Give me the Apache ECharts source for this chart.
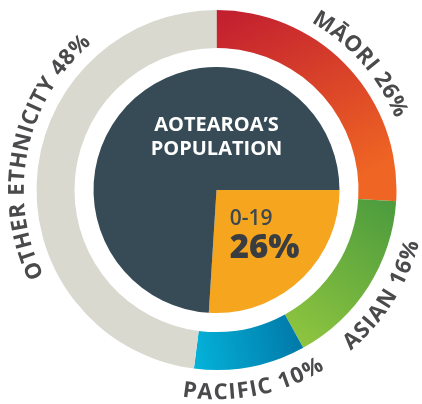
<!DOCTYPE html>
<html><head><meta charset="utf-8">
<script src="https://cdn.jsdelivr.net/npm/echarts@6/dist/echarts.min.js"></script>
<style>html,body{margin:0;padding:0;background:#fff}#c{width:422px;height:404px}</style>
</head><body><div id="c"></div>
<script>
// ---- data ----
const categories = ['MĀORI', 'ASIAN', 'PACIFIC', 'OTHER ETHNICITY'];
const ethnicityShares = [26, 16, 10, 48];
const ageGroups = ['0-19', 'Other ages'];
const ageShares = [26, 74];
const centreTitle = ['AOTEAROA’S', 'POPULATION'];

// ---- layout / style ----
const CX = 216.5, CY = 190, R_OUT = 180, R_IN = 142, R_PIE = 123;
const R_TOP = 199, R_BOTTOM = 203;
const LABEL_SIZE = 22, LABEL_SPACING = 1;
const LABEL_FAMILY = '"Open Sans", "DejaVu Sans", sans-serif';
const LABEL_COLOR = '#4a4a4c';
const labelShift = [2, 0, 0, 8]; // degrees
const ringColors = [
  {type:'linear',x:0,y:0,x2:0.5,y2:1,colorStops:[{offset:0,color:'#c11d30'},{offset:1,color:'#ef6523'}]},
  {type:'linear',x:1,y:0,x2:0,y2:1,colorStops:[{offset:0,color:'#4a9a3e'},{offset:1,color:'#93c83f'}]},
  {type:'linear',x:0,y:0.6,x2:1,y2:0.2,colorStops:[{offset:0,color:'#04b1d8'},{offset:1,color:'#0176a6'}]},
  '#d9d9d0'
];
const ageColors = ['#f6a51e', '#364b55'];

// ---- curved labels ----
const ctx = document.createElement('canvas').getContext('2d');
ctx.font = 'bold ' + LABEL_SIZE + 'px ' + LABEL_FAMILY;
const total = ethnicityShares.reduce((a, b) => a + b, 0);
const graphics = [];
let cum = 0;
categories.forEach((cat, i) => {
  const text = cat + ' ' + ethnicityShares[i] + '%';
  const midDeg = (cum + ethnicityShares[i] / 2) / total * 360 + labelShift[i];
  cum += ethnicityShares[i];
  const mid = midDeg * Math.PI / 180;
  const bottom = midDeg > 90 && midDeg < 270;
  const r = bottom ? R_BOTTOM : R_TOP;
  const chars = Array.from(text);
  const widths = chars.map(c => ctx.measureText(c).width);
  const totalW = widths.reduce((a, b) => a + b, 0) + LABEL_SPACING * (chars.length - 1);
  const span = totalW / r;
  let acc = 0;
  chars.forEach((c, k) => {
    const off = (acc + widths[k] / 2) / r;
    acc += widths[k] + LABEL_SPACING;
    if (c === ' ') return;
    const a = bottom ? mid + span / 2 - off : mid - span / 2 + off;
    graphics.push({
      type: 'text', silent: true, z: 100,
      x: CX + r * Math.sin(a), y: CY - r * Math.cos(a),
      rotation: bottom ? Math.PI - a : -a,
      style: {
        text: c, fill: LABEL_COLOR, fontSize: LABEL_SIZE, fontWeight: 'bold',
        fontFamily: LABEL_FAMILY, align: 'center', verticalAlign: 'middle',
        textAlign: 'center', textVerticalAlign: 'middle'
      }
    });
  });
});

graphics.push({
  type: 'text', silent: true, z: 100, x: CX, y: 137,
  style: {
    text: centreTitle.join('\n'), fill: '#ffffff', fontSize: 20, fontWeight: 'bold',
    fontFamily: LABEL_FAMILY, lineHeight: 24, align: 'center', verticalAlign: 'middle',
    textAlign: 'center', textVerticalAlign: 'middle'
  }
});

const chart = echarts.init(document.getElementById('c'), null, {renderer: 'canvas'});
chart.setOption({
  animation: false,
  backgroundColor: '#ffffff',
  series: [
    {
      type: 'pie', silent: true, center: [CX, CY], radius: [R_IN, R_OUT],
      startAngle: 90, clockwise: true,
      label: {show: false}, labelLine: {show: false},
      itemStyle: {borderWidth: 0},
      emphasis: {disabled: true},
      data: categories.map((c, i) => ({name: c, value: ethnicityShares[i], itemStyle: {color: ringColors[i]}}))
    },
    {
      type: 'pie', silent: true, center: [CX, CY], radius: [0, R_PIE],
      startAngle: 0, clockwise: true,
      labelLine: {show: false},
      itemStyle: {borderWidth: 0},
      emphasis: {disabled: true},
      data: ageGroups.map((g, i) => ({
        name: g, value: ageShares[i], itemStyle: {color: ageColors[i]},
        label: i === 0 ? {
          show: true, position: 'inside', padding: [0, 0, 0, 8],
          formatter: p => '{a|' + p.name + '}\n{b|' + p.value + '%}',
          rich: {
            a: {fontSize: 21, fontWeight: 600, color: '#3d4950', fontFamily: LABEL_FAMILY, align: 'left', lineHeight: 24},
            b: {fontSize: 33, fontWeight: 800, color: '#393d41', fontFamily: LABEL_FAMILY, align: 'left', lineHeight: 36}
          }
        } : {show: false}
      }))
    }
  ],
  graphic: graphics
});
</script></body></html>
